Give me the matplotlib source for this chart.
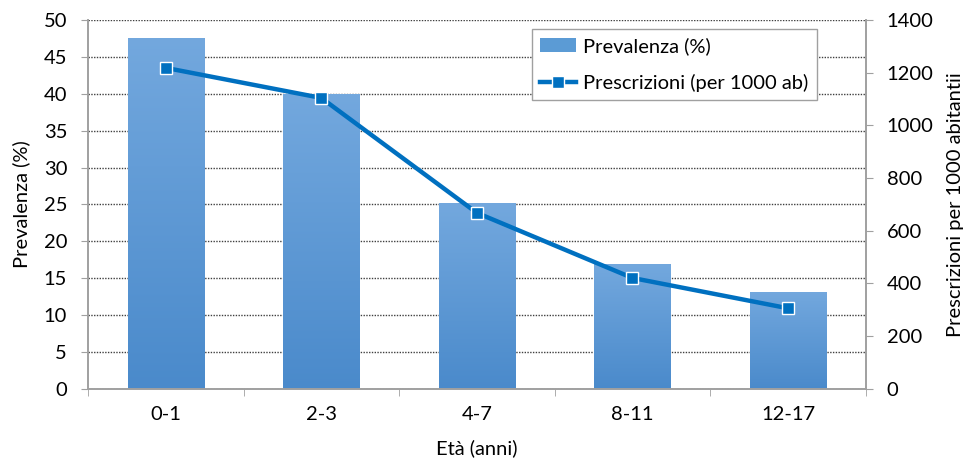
import matplotlib
matplotlib.use("Agg")
import matplotlib.pyplot as plt
import numpy as np
from matplotlib.colors import LinearSegmentedColormap

categories = ["0-1", "2-3", "4-7", "8-11", "12-17"]
prevalenza = [47.6, 39.9, 25.2, 16.9, 13.2]
prescrizioni = [1218, 1104, 668, 421, 306]
left_ticks = [0, 5, 10, 15, 20, 25, 30, 35, 40, 45, 50]
right_ticks = [0, 200, 400, 600, 800, 1000, 1200, 1400]

plt.rcParams['font.family'] = ['Lato', 'DejaVu Sans']
plt.rcParams['font.size'] = 14.5

fig = plt.figure(figsize=(9.71, 4.63), dpi=100)
ax = fig.add_axes([0.0906, 0.160, 0.801, 0.797])
ax2 = ax.twinx()

x = np.arange(len(categories))
bars = ax.bar(x, prevalenza, width=0.49, color="#5b9bd5", zorder=2, label="Prevalenza (%)")
cmap = LinearSegmentedColormap.from_list("g", ["#4a8acb", "#73a8de"])
grad = np.linspace(0, 1, 256).reshape(-1, 1)
for b in bars:
    x0, w, h = b.get_x(), b.get_width(), b.get_height()
    im = ax.imshow(grad, extent=(x0, x0 + w, 0, h), origin="lower", cmap=cmap,
                   aspect="auto", zorder=2.1)
    im.set_clip_path(b)

ax.set_xlim(-0.5, len(categories) - 0.5)
ax.set_ylim(0, 50)
ax.set_yticks(left_ticks)
ax2.set_ylim(0, 1400)
ax2.set_yticks(right_ticks)

ax.set_xticks(x)
ax.set_xticklabels(categories)
ax.set_xticks(np.arange(-0.5, len(categories), 1.0), minor=True)
ax.tick_params(axis="x", which="major", length=0, pad=12)
ax.tick_params(axis="x", which="minor", length=5, color="#a0a0a0")
ax.tick_params(axis="y", length=5, color="#a0a0a0", pad=10)
ax2.tick_params(axis="y", length=5, color="#a0a0a0", pad=10)

ax.yaxis.grid(True, linestyle=(0, (1, 1)), color="#404040", linewidth=1.0, zorder=0)
ax.set_axisbelow(True)

for a in (ax, ax2):
    a.spines["top"].set_visible(False)
    for s in ("left", "right", "bottom"):
        a.spines[s].set_color("#a0a0a0")
        a.spines[s].set_linewidth(1.2)

line, = ax2.plot(x, prescrizioni, color="#0070c0", linewidth=3.2, marker="s",
                 markersize=8.5, markerfacecolor="#0070c0", markeredgecolor="white",
                 markeredgewidth=1.0, zorder=5, label="Prescrizioni (per 1000 ab)")

ax.set_ylabel("Prevalenza (%)", labelpad=10)
ax2.set_ylabel("Prescrizioni per 1000 abitantii", labelpad=10)
ax.set_xlabel("Età (anni)", labelpad=12)

leg = ax2.legend([bars, line], ["Prevalenza (%)", "Prescrizioni (per 1000 ab)"],
                 loc="upper left", bbox_to_anchor=(0.571, 0.976), borderaxespad=0,
                 frameon=True, fancybox=False, edgecolor="#a0a0a0", framealpha=1,
                 handlelength=1.8, handletextpad=0.35, borderpad=0.4, labelspacing=0.95)
leg.get_frame().set_linewidth(1.0)

fig.savefig("out.png", dpi=100)
